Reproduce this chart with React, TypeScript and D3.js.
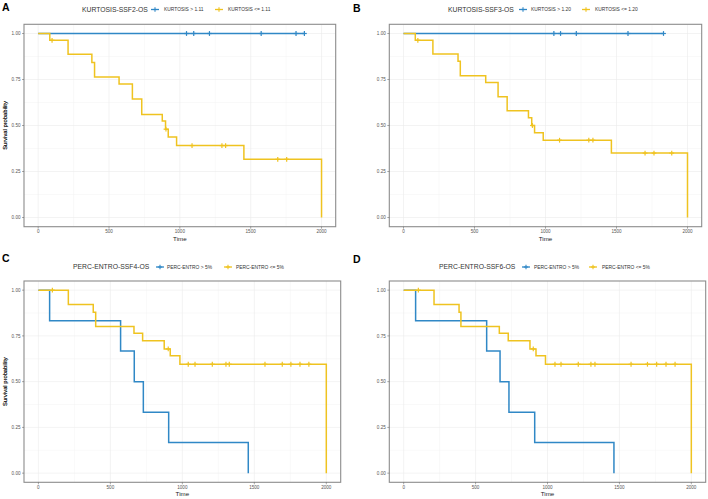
import React from 'react';
import * as d3 from 'd3';

// ---- axis ticks ----
const xTicks = [0, 500, 1000, 1500, 2000];
const xMinor = [250, 750, 1250, 1750];
const yTicks = [0, 0.25, 0.5, 0.75, 1];
const yMinor = [0.125, 0.375, 0.625, 0.875];
const yTickLabels = ['0.00', '0.25', '0.50', '0.75', '1.00'];

// ---- Panel A ----
const aTitle = 'KURTOSIS-SSF2-OS';
const aLabels = ['KURTOSIS > 1.11', 'KURTOSIS <= 1.11'];
const aBlueTimes: number[] = [];
const aBlueSurv: number[] = [];
const aBlueCens = [1047, 1098, 1209, 1574, 1820, 1879];
const aBlueEnd = 1879;
const aYelTimes = [82, 211, 379, 398, 571, 665, 731, 876, 899, 918, 977, 1452, 2000];
const aYelSurv = [0.963, 0.887, 0.843, 0.763, 0.725, 0.644, 0.56, 0.524, 0.48, 0.438, 0.391, 0.316, 0];
const aYelCens = [98, 902, 1086, 1297, 1323, 1691, 1754];
const aYelEnd = 2000;

// ---- Panel B ----
const bTitle = 'KURTOSIS-SSF3-OS';
const bLabels = ['KURTOSIS > 1.20', 'KURTOSIS <= 1.20'];
const bBlueTimes: number[] = [];
const bBlueSurv: number[] = [];
const bBlueCens = [1059, 1106, 1217, 1581, 1831];
const bBlueEnd = 1831;
const bYelTimes = [83, 207, 384, 400, 579, 666, 730, 880, 903, 923, 984, 1464, 2000];
const bYelSurv = [0.963, 0.889, 0.849, 0.771, 0.734, 0.656, 0.58, 0.542, 0.5, 0.46, 0.42, 0.35, 0];
const bYelCens = [101, 908, 1099, 1305, 1334, 1701, 1764, 1889];
const bYelEnd = 2000;

// ---- Panel C ----
const cTitle = 'PERC-ENTRO-SSF4-OS';
const cLabels = ['PERC-ENTRO > 5%', 'PERC-ENTRO <= 5%'];
const cBlueTimes = [78, 571, 666, 729, 905, 1458];
const cBlueSurv = [0.833, 0.667, 0.5, 0.333, 0.167, 0];
const cBlueCens: number[] = [];
const cBlueEnd = 1458;
const cYelTimes = [208, 381, 398, 664, 724, 874, 916, 983, 2000];
const cYelSurv = [0.921, 0.879, 0.801, 0.765, 0.723, 0.679, 0.641, 0.595, 0];
const cYelCens = [97, 902, 1041, 1088, 1208, 1303, 1326, 1574, 1694, 1754, 1817, 1879];
const cYelEnd = 2000;

// ---- Panel D ----
const dTitle = 'PERC-ENTRO-SSF6-OS';
const dLabels = ['PERC-ENTRO > 5%', 'PERC-ENTRO <= 5%'];
const dBlueTimes = [83, 577, 670, 732, 911, 1462];
const dBlueSurv = [0.833, 0.667, 0.5, 0.333, 0.167, 0];
const dBlueCens: number[] = [];
const dBlueEnd = 1462;
const dYelTimes = [211, 385, 398, 665, 727, 878, 920, 986, 2000];
const dYelSurv = [0.921, 0.879, 0.801, 0.765, 0.723, 0.679, 0.641, 0.595, 0];
const dYelCens = [102, 901, 1052, 1094, 1214, 1302, 1330, 1581, 1695, 1759, 1824, 1887];
const dYelEnd = 2000;

const BLUE = '#3088c6';
const YELLOW = '#efc320';
const FONT = '"Liberation Sans", Arial, sans-serif';

type Series = { times: number[]; surv: number[]; cens: number[]; end: number };

const panels = [
  {
    letter: 'A', title: aTitle, labels: aLabels,
    blue: { times: aBlueTimes, surv: aBlueSurv, cens: aBlueCens, end: aBlueEnd },
    yel: { times: aYelTimes, surv: aYelSurv, cens: aYelCens, end: aYelEnd },
    box: { l: 24, r: 335.7, t: 24.3, b: 226.7 },
    letterPos: [2, 11], legendY: 9.5, titleX: 82, plusX: [155, 219], textX: [164, 228],
  },
  {
    letter: 'B', title: bTitle, labels: bLabels,
    blue: { times: bBlueTimes, surv: bBlueSurv, cens: bBlueCens, end: bBlueEnd },
    yel: { times: bYelTimes, surv: bYelSurv, cens: bYelCens, end: bYelEnd },
    box: { l: 389.3, r: 701.7, t: 24.3, b: 226.7 },
    letterPos: [353, 12], legendY: 9.5, titleX: 448, plusX: [523, 586], textX: [531, 595],
  },
  {
    letter: 'C', title: cTitle, labels: cLabels,
    blue: { times: cBlueTimes, surv: cBlueSurv, cens: cBlueCens, end: cBlueEnd },
    yel: { times: cYelTimes, surv: cYelSurv, cens: cYelCens, end: cYelEnd },
    box: { l: 24, r: 340.7, t: 281, b: 482.3 },
    letterPos: [2, 262], legendY: 267, titleX: 73, plusX: [160, 228], textX: [167, 236],
  },
  {
    letter: 'D', title: dTitle, labels: dLabels,
    blue: { times: dBlueTimes, surv: dBlueSurv, cens: dBlueCens, end: dBlueEnd },
    yel: { times: dYelTimes, surv: dYelSurv, cens: dYelCens, end: dYelEnd },
    box: { l: 389.3, r: 705.7, t: 281, b: 482.3 },
    letterPos: [353, 263], legendY: 267, titleX: 439, plusX: [526, 593], textX: [534, 602],
  },
];

function survAt(s: Series, t: number) {
  let v = 1;
  for (let i = 0; i < s.times.length; i++) if (s.times[i] <= t) v = s.surv[i];
  return v;
}

function stepPoints(s: Series): [number, number][] {
  const pts: [number, number][] = [[0, 1]];
  s.times.forEach((t, i) => pts.push([t, s.surv[i]]));
  const last = s.times.length ? s.times[s.times.length - 1] : 0;
  if (s.end > last) pts.push([s.end, s.surv.length ? s.surv[s.surv.length - 1] : 1]);
  return pts;
}

function Plus({ x, y, color, size = 2.3, w = 1 }: { x: number; y: number; color: string; size?: number; w?: number }) {
  return (
    <g stroke={color} strokeWidth={w}>
      <line x1={x - size} x2={x + size} y1={y} y2={y} />
      <line x1={x} x2={x} y1={y - size} y2={y + size} />
    </g>
  );
}

function Panel({ p }: { p: (typeof panels)[number] }) {
  const { l, r, t, b } = p.box;
  const x = d3.scaleLinear().domain([-100, 2100]).range([l, r]);
  const y = d3.scaleLinear().domain([-0.05, 1.05]).range([b, t]);
  const line = d3.line<[number, number]>().x(d => x(d[0])).y(d => y(d[1])).curve(d3.curveStepAfter);
  const series: [Series, string][] = [[p.blue, BLUE], [p.yel, YELLOW]];
  const cx = (l + r) / 2;
  const cy = (t + b) / 2;
  return (
    <g>
      <text x={p.letterPos[0]} y={p.letterPos[1]} fontFamily={FONT} fontWeight="bold" fontSize={10.5} fill="#000">{p.letter}</text>
      {/* legend */}
      <text x={p.titleX} y={p.legendY} dy="0.35em" fontFamily={FONT} fontSize={6.8} fill="#333">{p.title}</text>
      <line x1={p.plusX[0] - 4} x2={p.plusX[0] + 4} y1={p.legendY} y2={p.legendY} stroke={BLUE} strokeWidth={1.3} />
      <Plus x={p.plusX[0]} y={p.legendY} color={BLUE} size={2.2} w={1.1} />
      <text x={p.textX[0]} y={p.legendY} dy="0.35em" fontFamily={FONT} fontSize={4.9} fill="#333">{p.labels[0]}</text>
      <line x1={p.plusX[1] - 4} x2={p.plusX[1] + 4} y1={p.legendY} y2={p.legendY} stroke={YELLOW} strokeWidth={1.3} />
      <Plus x={p.plusX[1]} y={p.legendY} color={YELLOW} size={2.2} w={1.1} />
      <text x={p.textX[1]} y={p.legendY} dy="0.35em" fontFamily={FONT} fontSize={4.9} fill="#333">{p.labels[1]}</text>
      {/* panel */}
      <rect x={l} y={t} width={r - l} height={b - t} fill="#fff" />
      {xMinor.map(v => <line key={'xm' + v} x1={x(v)} x2={x(v)} y1={t} y2={b} stroke="#f3f3f3" strokeWidth={0.5} />)}
      {yMinor.map(v => <line key={'ym' + v} x1={l} x2={r} y1={y(v)} y2={y(v)} stroke="#f3f3f3" strokeWidth={0.5} />)}
      {xTicks.map(v => <line key={'xg' + v} x1={x(v)} x2={x(v)} y1={t} y2={b} stroke="#ebebeb" strokeWidth={0.6} />)}
      {yTicks.map(v => <line key={'yg' + v} x1={l} x2={r} y1={y(v)} y2={y(v)} stroke="#ebebeb" strokeWidth={0.6} />)}
      {series.map(([s, c], i) => (
        <g key={'s' + i}>
          <path d={line(stepPoints(s)) || ''} fill="none" stroke={c} strokeWidth={1.5} />
          {s.cens.map((ct, j) => <Plus key={j} x={x(ct)} y={y(survAt(s, ct))} color={c} size={2.4} w={1.2} />)}
        </g>
      ))}
      <rect x={l} y={t} width={r - l} height={b - t} fill="none" stroke="#8c8c8c" strokeWidth={1.1} />
      {/* axes */}
      {xTicks.map(v => (
        <g key={'xt' + v}>
          <line x1={x(v)} x2={x(v)} y1={b} y2={b + 2} stroke="#555" strokeWidth={0.5} />
          <text x={x(v)} y={b + 5} dy="0.35em" textAnchor="middle" fontFamily={FONT} fontSize={4.6} fill="#555">{v}</text>
        </g>
      ))}
      {yTicks.map((v, i) => (
        <g key={'yt' + v}>
          <line x1={l - 2} x2={l} y1={y(v)} y2={y(v)} stroke="#555" strokeWidth={0.5} />
          <text x={l - 3.5} y={y(v)} dy="0.35em" textAnchor="end" fontFamily={FONT} fontSize={4.6} fill="#555">{yTickLabels[i]}</text>
        </g>
      ))}
      <text x={cx} y={b + 14} textAnchor="middle" fontFamily={FONT} fontSize={6.2} fill="#222">Time</text>
      <text transform={`translate(${7}, ${cy}) rotate(-90)`} textAnchor="middle" fontFamily={FONT} fontSize={5.8} fill="#222">Survival probability</text>
    </g>
  );
}

export default function App() {
  return (
    <svg width={708} height={499} style={{ position: 'absolute', left: 0, top: 0, background: '#fff' }}>
      <rect x={0} y={0} width={708} height={499} fill="#fff" />
      {panels.map(p => <Panel key={p.letter} p={p} />)}
    </svg>
  );
}
